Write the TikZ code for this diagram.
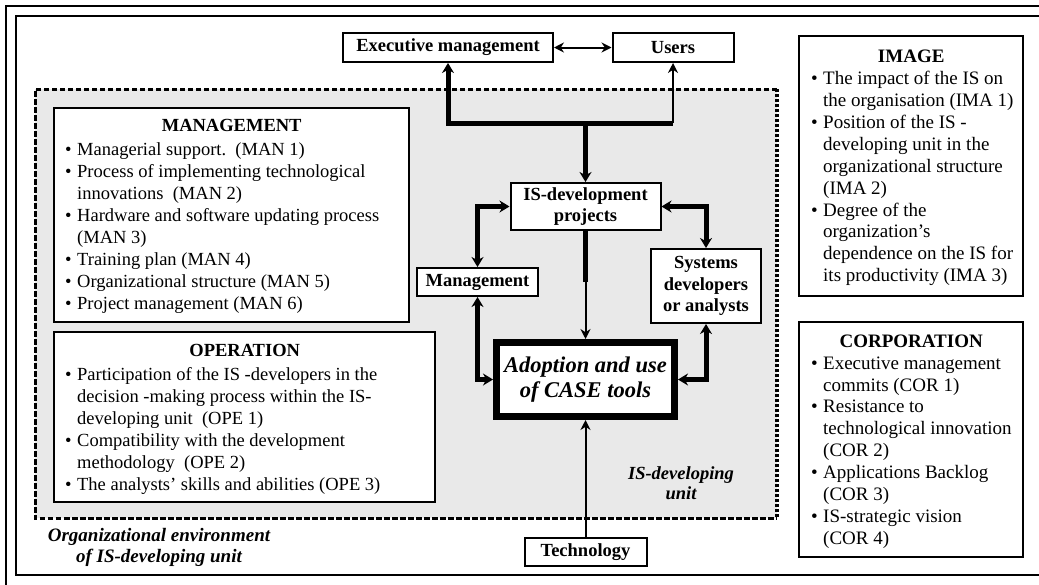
\documentclass[tikz,border=0pt]{standalone}
\usepackage{fontspec}
\setmainfont{Liberation Serif}
\usetikzlibrary{arrows.meta}
\definecolor{unitgray}{RGB}{233,233,233}
\newcommand\itembul{\makebox[12pt][l]{\textbullet}}
\newcommand\itemind{\hspace*{12pt}}
\tikzset{
  box/.style={draw, line width=2pt, fill=white, inner sep=0pt},
  lbl/.style={box, align=center, font=\fontsize{18.5}{21.7}\selectfont\bfseries},
  listtext/.style={anchor=north west, align=left, inner sep=0pt,
    font=\fontsize{18.5}{22}\selectfont},
  rlisttext/.style={anchor=north west, align=left, inner sep=0pt,
    font=\fontsize{19}{21.9}\selectfont},
  heavy/.style={line width=5pt},
  heavyto/.style={heavy, arrows={-Stealth[length=10pt,width=12pt]}},
  heavyback/.style={heavy, arrows={Stealth[length=10pt,width=12pt]-}},
  heavyboth/.style={heavy, arrows={Stealth[length=10pt,width=12pt]-Stealth[length=10pt,width=12pt]}},
  light/.style={line width=2pt},
  lightto/.style={light, arrows={-Stealth[length=10pt,width=10pt]}},
  lightboth/.style={light, arrows={Stealth[length=10pt,width=10pt]-Stealth[length=10pt,width=10pt]}},
}
\begin{document}
\begin{tikzpicture}[x=1pt, y=-1pt]
\useasboundingbox (0,0) rectangle (1039,584);
\clip (0,0) rectangle (1039,584);
\fill[white] (0,0) rectangle (1039,584);

% double page frame
\draw[line width=2pt] (1060,6) -- (6,6) -- (6,600);
\draw[line width=2pt] (1060,16) -- (16,16) -- (16,575) -- (1060,575);

% IS-developing unit area
\fill[unitgray] (35,89) rectangle (777,518);
\draw[line width=3pt, dash pattern=on 5.5pt off 2.5pt] (777,89) -- (35,89) -- (35,518) -- (777,518);
\draw[line width=4pt, dash pattern=on 3pt off 2pt] (777,89) -- (777,518);

% central actors
\node[lbl, minimum width=210pt, minimum height=29pt] (exec) at (448,47.5) {Executive management};
\node[lbl, minimum width=121pt, minimum height=29pt] (users) at (673,47.5) {Users};
\node[lbl, minimum width=150pt, minimum height=47pt] (isdev) at (585.5,206.5) {IS-development\\projects};
\node[lbl, minimum width=121pt, minimum height=28pt] (mgmt) at (477.5,282) {Management};
\node[lbl, minimum width=110pt, minimum height=74pt] (sys) at (706,286) {Systems\\developers\\or analysts};
\node[lbl, minimum width=122pt, minimum height=28pt] (tech) at (585.5,552) {Technology};
\node[draw, line width=7pt, fill=white, minimum width=178pt, minimum height=74pt,
      align=center, inner sep=0pt, font=\fontsize{22.5}{25}\selectfont\bfseries\itshape]
      (adopt) at (585.5,379.5) {Adoption and use\\of CASE tools};

% factor boxes
\node[box, minimum width=355pt, minimum height=214pt] (manbox) at (231.5,215) {};
\node[listtext] (mantext) at (65,119.3) {%
\makebox[333pt]{\bfseries MANAGEMENT}\\[2pt]
\itembul Managerial support.\ \ (MAN 1)\\
\itembul Process of implementing technological\\
\itemind innovations\ \ (MAN 2)\\
\itembul Hardware and software updating process\\
\itemind (MAN 3)\\
\itembul Training plan (MAN 4)\\
\itembul Organizational structure (MAN 5)\\
\itembul Project management (MAN 6)};

\node[box, minimum width=381pt, minimum height=170pt] (opebox) at (244.5,417) {};
\node[listtext] (opetext) at (65,344.3) {%
\makebox[359pt]{\bfseries OPERATION}\\[2pt]
\itembul Participation of the IS -developers in the\\
\itemind decision -making process within the IS-\\
\itemind developing unit\ \ (OPE 1)\\
\itembul Compatibility with the development\\
\itemind methodology\ \ (OPE 2)\\
\itembul The analysts’ skills and abilities (OPE 3)};

\node[box, minimum width=224pt, minimum height=260pt] (imabox) at (911,166) {};
\node[rlisttext] (imatext) at (811,50) {%
\makebox[200pt]{\bfseries IMAGE}\\
\itembul The impact of the IS on\\
\itemind the organisation (IMA 1)\\
\itembul Position of the IS -\\
\itemind developing unit in the\\
\itemind organizational structure\\
\itemind (IMA 2)\\
\itembul Degree of the\\
\itemind organization’s\\
\itemind dependence on the IS for\\
\itemind its productivity (IMA 3)};

\node[box, minimum width=224pt, minimum height=235pt] (corbox) at (911,439.5) {};
\node[rlisttext] (cortext) at (811,334.5) {%
\makebox[200pt]{\bfseries CORPORATION}\\
\itembul Executive management\\
\itemind commits (COR 1)\\
\itembul Resistance to\\
\itemind technological innovation\\
\itemind (COR 2)\\
\itembul Applications Backlog\\
\itemind (COR 3)\\
\itembul IS-strategic vision\\
\itemind (COR 4)};

% area labels
\node[align=center, inner sep=0pt, font=\fontsize{18.5}{20}\selectfont\bfseries\itshape]
  (unitlabel) at (681,483) {IS-developing\\unit};
\node[align=center, inner sep=0pt, font=\fontsize{19}{21}\selectfont\bfseries\itshape]
  (orglabel) at (159,547.5) {Organizational environment\\of IS-developing unit};

% connectors
\coordinate (jl) at (448,123);
\coordinate (jr) at (673,123);
\coordinate (jm) at (585.5,123);
\coordinate (drop) at (585.5,282);

\draw[lightboth] (exec.east) -- (users.west);
\draw[heavyback] (exec.south) -- (jl) -- (jr);
\draw[lightto] (jr) -- (users.south);
\draw[heavyto] (jm) -- (isdev.north);
\draw[heavyboth] (isdev.west) -| (mgmt.north);
\draw[heavyboth] (mgmt.south) |- (adopt.west);
\draw[heavyboth] (isdev.east) -| (sys.north);
\draw[heavyboth] (sys.south) |- (adopt.east);
\draw[heavy] (isdev.south) -- (drop);
\draw[lightto] (drop) -- (adopt.north);
\draw[lightto] (tech.north) -- (adopt.south);
\end{tikzpicture}
\end{document}
